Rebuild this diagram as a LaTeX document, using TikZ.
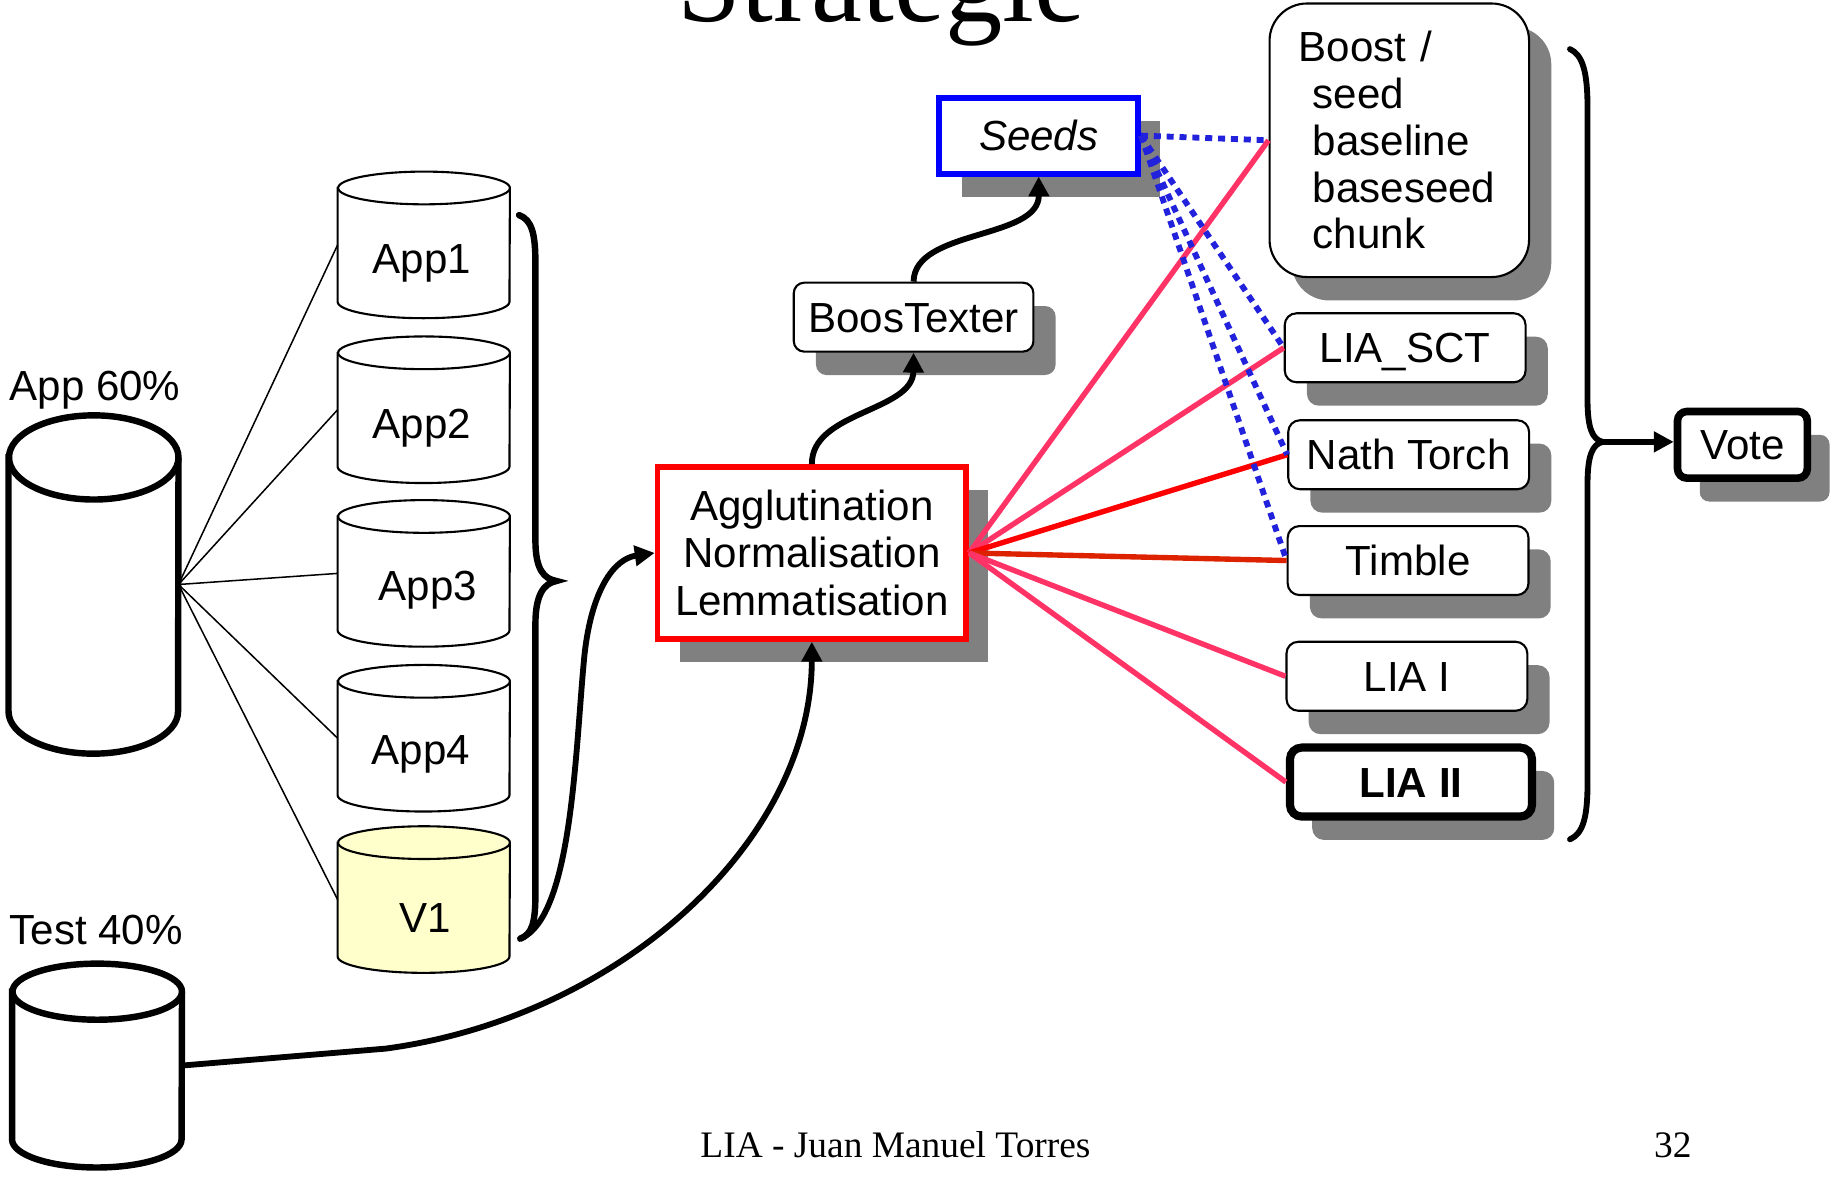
\documentclass[tikz,border=0pt]{standalone}
\usepackage{fontspec}
\setmainfont{Liberation Sans}
\newfontfamily\seriffont{Liberation Serif}
\usetikzlibrary{arrows.meta,shadows}
\definecolor{pinkln}{RGB}{255,51,102}
\definecolor{redln}{RGB}{255,0,0}
\definecolor{orangeln}{RGB}{221,34,0}
\definecolor{dotblue}{RGB}{34,34,221}
\definecolor{seedblue}{RGB}{0,0,255}
\definecolor{shadowgray}{RGB}{128,128,128}
\definecolor{vyellow}{RGB}{255,255,204}
% cylinder: name, center, width, height, ellipse y radius, style
\newcommand\dbcyl[6]{%
  \node[inner sep=0pt, minimum width=#3, minimum height=#4] (#1) at #2 {};
  \path[#6] ([yshift=-#5]#1.north west) -- ([yshift=#5]#1.south west)
     arc[start angle=180, end angle=360, x radius=#3/2, y radius=#5]
     -- ([yshift=-#5]#1.north east)
     arc[start angle=0, end angle=180, x radius=#3/2, y radius=#5] -- cycle;
  \draw[#6, fill=none] ([yshift=-#5]#1.north east)
     arc[start angle=0, end angle=-180, x radius=#3/2, y radius=#5];
}
\begin{document}
\begin{tikzpicture}[x=1pt, y=-1pt,
  every node/.style={font=\fontsize{36}{40}\selectfont},
  shad/.style={drop shadow={shadow xshift=19pt, shadow yshift=-20pt, fill=shadowgray, opacity=1}},
  bigcyl/.style={draw, fill=white, line width=5.5pt},
  smallcyl/.style={draw, fill=white, line width=1.8pt},
  thinln/.style={line width=1.3pt},
  bracestyle/.style={line width=5.5pt, line cap=round},
  arr/.style={line width=5pt, -{Triangle[length=17pt, width=17pt]}},
  rbox/.style={draw, line width=1.8pt, rounded corners=10pt, fill=white, minimum width=206pt,
    minimum height=59pt, inner sep=0pt, text height=25.8pt, text depth=0pt, shad},
  pinkc/.style={line width=4.6pt, pinkln},
  dotc/.style={line width=5pt, dotblue, dash pattern=on 6pt off 5pt}
]
\fill[white] (0,0) rectangle (1568,1008);
\useasboundingbox (0,0) rectangle (1568,1008);

% title and footer
\node[font=\seriffont\fontsize{98}{98}\selectfont, anchor=base, inner sep=0pt] (title) at (754,18) {Stratégie};
\node[font=\seriffont\fontsize{32}{32}\selectfont, anchor=base, inner sep=0pt] (footer) at (766,990) {LIA - Juan Manuel Torres};
\node[font=\seriffont\fontsize{32}{32}\selectfont, anchor=base, inner sep=0pt] (pagenum) at (1431,990) {32};

% cylinders
\dbcyl{big}{(80,500)}{145pt}{289pt}{36pt}{bigcyl}
\dbcyl{test}{(83,911.5)}{145pt}{174pt}{24pt}{bigcyl}
\node[anchor=base west, inner sep=0pt] (applbl) at (8,343) {App 60\%};
\node[anchor=base west, inner sep=0pt] (testlbl) at (8,808) {Test 40\%};

\dbcyl{app1}{(362.5,209.5)}{147pt}{125pt}{14pt}{smallcyl}
\dbcyl{app2}{(362.5,350.5)}{147pt}{125pt}{14pt}{smallcyl}
\dbcyl{app3}{(362.5,490.5)}{147pt}{125pt}{14pt}{smallcyl}
\dbcyl{app4}{(362.5,631.5)}{147pt}{125pt}{14pt}{smallcyl}
\dbcyl{v1}{(362.5,769.5)}{147pt}{125pt}{14pt}{smallcyl, fill=vyellow}
\node[inner sep=0pt, text height=25.8pt, text depth=0pt] (app1lbl) at (361,221) {App1};
\node[inner sep=0pt, text height=25.8pt, text depth=0pt] (app2lbl) at (361,362) {App2};
\node[inner sep=0pt, text height=25.8pt, text depth=0pt] (app3lbl) at (366,501) {App3};
\node[inner sep=0pt, text height=25.8pt, text depth=0pt] (app4lbl) at (360,641) {App4};
\node[inner sep=0pt, text height=25.8pt, text depth=0pt] (v1lbl) at (364,785) {V1};

\draw[thinln] (big.east) -- (app1.west);
\draw[thinln] (big.east) -- (app2.west);
\draw[thinln] (big.east) -- (app3.west);
\draw[thinln] (big.east) -- (app4.west);
\draw[thinln] (big.east) -- (v1.west);

% left brace
\coordinate (lbrtop) at (444,184);
\coordinate (lbrbot) at (445,803);
\draw[bracestyle] (lbrtop) .. controls (455,188) and (458,200) .. (458,225) -- (458,462)
  .. controls (458,487) and (465,495) .. (476,497)
  .. controls (465,499) and (458,509) .. (458,534) -- (458,765)
  .. controls (458,790) and (455,799) .. (lbrbot);

% right brace
\coordinate (rbrtop) at (1343,42);
\coordinate (rbrtip) at (1371,378);
\coordinate (rbrbot) at (1343,718);
\draw[bracestyle, line width=5pt] (rbrtop) .. controls (1354,47) and (1358,62) .. (1358,92) -- (1358,342)
  .. controls (1358,366) and (1362,376) .. (rbrtip)
  .. controls (1362,380) and (1358,390) .. (1358,414) -- (1358,670)
  .. controls (1358,700) and (1354,713) .. (rbrbot);

% boxes
\node[draw=red, line width=5pt, fill=white, minimum width=264pt, minimum height=147pt, inner sep=0pt,
  align=center, font=\fontsize{36}{40.6}\selectfont, shad] (agg) at (694.5,473)
  {Agglutination\\Normalisation\\Lemmatisation};
\node[draw, line width=1.8pt, rounded corners=9pt, fill=white, minimum width=205pt, minimum height=59pt,
  inner sep=0pt, text height=25.8pt, text depth=0pt, shad] (boos) at (781.5,271.3) {BoosTexter};
\node[draw=seedblue, line width=5pt, fill=white, minimum width=170pt, minimum height=65pt,
  inner sep=0pt, text height=25.8pt, text depth=0pt, font=\fontsize{36}{40}\selectfont\itshape, shad] (seeds) at (888.5,116) {Seeds};
\node[draw, line width=1.8pt, rounded corners=32pt, fill=white, minimum width=222pt, minimum height=234pt,
  inner xsep=25pt, inner ysep=0pt, text width=172pt, align=left, shad] (boost) at (1197,120)
  {Boost /\\~seed\\~baseline\\~baseseed\\~chunk};
\node[rbox] (liasct) at (1202,297.5) {LIA\_SCT};
\node[rbox] (nath) at (1205,389) {Nath Torch};
\node[rbox] (timble) at (1204.5,479.5) {Timble};
\node[rbox] (liai) at (1203.5,578.5) {LIA I};
\node[rbox, line width=7pt, minimum width=207pt, font=\fontsize{36}{40}\selectfont\bfseries] (liaii) at (1207,669) {LIA II};
\node[rbox, line width=6.5pt, rounded corners=8pt, minimum width=111pt, minimum height=57pt] (vote) at (1490.5,380.5) {Vote};

% coloured lines
\draw[pinkc] (agg.east) -- (boost.west);
\draw[pinkc] (agg.east) -- (liasct.west);
\draw[line width=4.6pt, redln] (agg.east) -- (nath.west);
\draw[line width=4.6pt, orangeln] (agg.east) -- (timble.west);
\draw[pinkc] (agg.east) -- (liai.west);
\draw[pinkc] (agg.east) -- (liaii.west);

\draw[dotc] (seeds.east) -- (boost.west);
\draw[dotc] (seeds.east) -- (liasct.west);
\draw[dotc] (seeds.east) -- (nath.west);
\draw[dotc] (seeds.east) -- (timble.west);

% black arrows
\draw[arr] (lbrbot) .. controls (490,785) and (492,640) .. (500,560)
  .. controls (506,505) and (525,478) .. (agg.west);
\draw[arr] (test.east) -- (330,897) .. controls (530,870) and (694,720) .. (agg.south);
\draw[arr] (agg.north) .. controls (694,352) and (781,352) .. (boos.south);
\draw[arr] (boos.north) .. controls (782,196) and (889,205) .. (seeds.south);
\draw[arr, line width=4.5pt] (rbrtip) -- (rbrtip -| vote.west);
\end{tikzpicture}
\end{document}
